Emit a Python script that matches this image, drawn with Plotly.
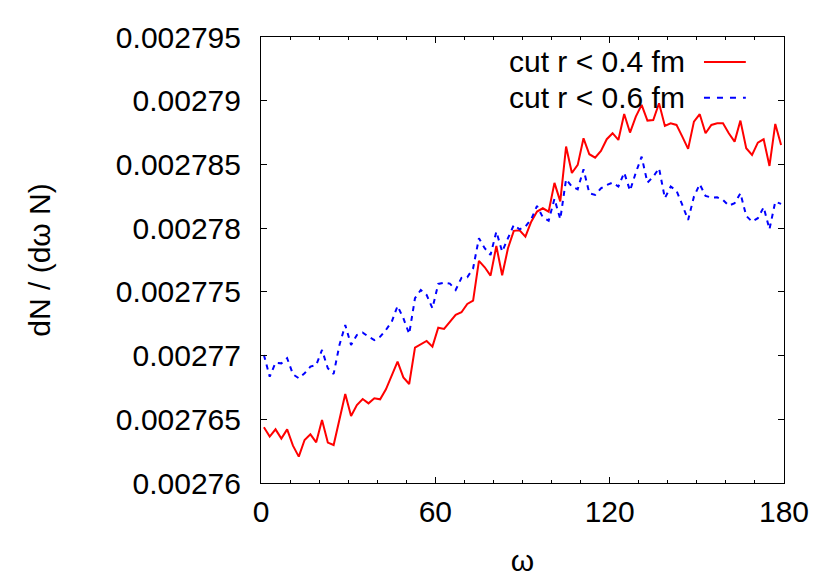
import plotly.graph_objects as go

# bin centres (degrees)
omega = [1, 3, 5, 7, 9, 11, 13, 15, 17, 19, 21, 23, 25, 27, 29, 31, 33, 35, 37, 39,
         41, 43, 45, 47, 49, 51, 53, 55, 57, 59, 61, 63, 65, 67, 69, 71, 73, 75, 77, 79,
         81, 83, 85, 87, 89, 91, 93, 95, 97, 99, 101, 103, 105, 107, 109, 111, 113, 115,
         117, 119, 121, 123, 125, 127, 129, 131, 133, 135, 137, 139, 141, 143, 145, 147,
         149, 151, 153, 155, 157, 159, 161, 163, 165, 167, 169, 171, 173, 175, 177, 179]

cut_04 = [0.00276437, 0.00276364, 0.00276421, 0.00276348, 0.00276421, 0.00276293,
          0.00276207, 0.00276338, 0.00276382, 0.00276319, 0.00276494, 0.00276317,
          0.00276298, 0.00276500, 0.00276699, 0.00276526, 0.00276612, 0.00276659,
          0.00276625, 0.00276665, 0.00276657, 0.00276735, 0.00276848, 0.00276952,
          0.00276829, 0.00276777, 0.00277062, 0.00277088, 0.00277115, 0.00277070,
          0.00277219, 0.00277209, 0.00277266, 0.00277319, 0.00277340, 0.00277405,
          0.00277431, 0.00277743, 0.00277693, 0.00277627, 0.00277860, 0.00277630,
          0.00277842, 0.00277979, 0.00277983, 0.00277933, 0.00278051, 0.00278130,
          0.00278156, 0.00278130, 0.00278355, 0.00278210, 0.00278640, 0.00278433,
          0.00278496, 0.00278705, 0.00278580, 0.00278553, 0.00278606, 0.00278698,
          0.00278745, 0.00278692, 0.00278896, 0.00278750, 0.00278875, 0.00278967,
          0.00278844, 0.00278849, 0.00278980, 0.00278802, 0.00278823, 0.00278810,
          0.00278718, 0.00278622, 0.00278836, 0.00278894, 0.00278745, 0.00278810,
          0.00278823, 0.00278823, 0.00278745, 0.00278679, 0.00278844, 0.00278627,
          0.00278575, 0.00278671, 0.00278698, 0.00278488, 0.00278818, 0.00278653]

cut_06 = [0.00277005, 0.00276834, 0.00276944, 0.00276939, 0.00276979, 0.00276853,
          0.00276822, 0.00276861, 0.00276913, 0.00276926, 0.00277044, 0.00276900,
          0.00276856, 0.00277083, 0.00277240, 0.00277083, 0.00277162, 0.00277180,
          0.00277148, 0.00277122, 0.00277148, 0.00277201, 0.00277266, 0.00277389,
          0.00277293, 0.00277170, 0.00277450, 0.00277515, 0.00277476, 0.00277371,
          0.00277562, 0.00277572, 0.00277565, 0.00277515, 0.00277610, 0.00277615,
          0.00277685, 0.00277921, 0.00277842, 0.00277790, 0.00277973, 0.00277816,
          0.00277921, 0.00278025, 0.00277991, 0.00278012, 0.00278070, 0.00278174,
          0.00278085, 0.00278059, 0.00278230, 0.00278070, 0.00278384, 0.00278326,
          0.00278305, 0.00278462, 0.00278274, 0.00278261, 0.00278313, 0.00278339,
          0.00278357, 0.00278326, 0.00278436, 0.00278294, 0.00278436, 0.00278561,
          0.00278357, 0.00278404, 0.00278470, 0.00278235, 0.00278326, 0.00278294,
          0.00278182, 0.00278064, 0.00278247, 0.00278345, 0.00278253, 0.00278240,
          0.00278242, 0.00278221, 0.00278177, 0.00278195, 0.00278274, 0.00278096,
          0.00278051, 0.00278078, 0.00278164, 0.00277991, 0.00278208, 0.00278190]

series_names = ["cut r < 0.4 fm", "cut r < 0.6 fm"]

y_ticks = [0.00276, 0.002765, 0.00277, 0.002775, 0.00278, 0.002785, 0.00279, 0.002795]
y_ticktext = ["0.00276", "0.002765", "0.00277", "0.002775",
              "0.00278", "0.002785", "0.00279", "0.002795"]
x_ticks = [0, 60, 120, 180]

FONT = "Liberation Sans, Arial, Helvetica, sans-serif"

fig = go.Figure()

fig.add_trace(go.Scatter(x=omega, y=cut_04, mode="lines", name=series_names[0],
                         line=dict(color="#ff0000", width=2), showlegend=False))
fig.add_trace(go.Scatter(x=omega, y=cut_06, mode="lines", name=series_names[1],
                         line=dict(color="#0000ff", width=2, dash="5px,5px"),
                         showlegend=False))

# gnuplot-style key: text on the left, line sample on the right
key_rows = [(0.944, "#ff0000", "solid"), (0.864, "#0000ff", "6px,7px")]
for name, (ky, col, dash) in zip(series_names, key_rows):
    fig.add_annotation(x=0.814, y=ky, xref="paper", yref="paper", text=name,
                       showarrow=False, xanchor="right", yanchor="middle",
                       font=dict(family=FONT, size=30, color="black"))
    fig.add_shape(type="line", xref="paper", yref="paper", x0=0.847, x1=0.927,
                  y0=ky, y1=ky, line=dict(color=col, width=2, dash=dash))

fig.update_xaxes(
    range=[0, 180], tickvals=x_ticks, ticks="inside", ticklen=6, tickwidth=1,
    tickcolor="black", showline=True, linecolor="black", linewidth=1,
    mirror="allticks", showgrid=False, zeroline=False, automargin=False,
    minor=dict(dtick=10, ticks="inside", ticklen=3, tickcolor="black", showgrid=False),
    tickfont=dict(family=FONT, size=30, color="black"), ticklabelstandoff=2,
    title=dict(text="ω", font=dict(family=FONT, size=30, color="black"), standoff=22),
)
fig.update_yaxes(
    range=[0.00276, 0.002795], tickvals=y_ticks, ticktext=y_ticktext,
    ticks="inside", ticklen=6, tickwidth=1, tickcolor="black",
    showline=True, linecolor="black", linewidth=1, mirror="allticks",
    showgrid=False, zeroline=False, automargin=False,
    tickfont=dict(family=FONT, size=30, color="black"), ticklabelstandoff=13,
    title=dict(text="dN / (dω N)", font=dict(family=FONT, size=30, color="black"),
               standoff=56),
)

fig.update_layout(
    template="none",
    width=830, height=581,
    margin=dict(l=261, r=46, t=37, b=98),
    plot_bgcolor="white", paper_bgcolor="white",
    font=dict(family=FONT, color="black"),
)

fig.write_html("out.html", config={"displayModeBar": False},
               post_script="document.body.style.margin='0';"
                           "document.body.style.overflow='hidden';")
